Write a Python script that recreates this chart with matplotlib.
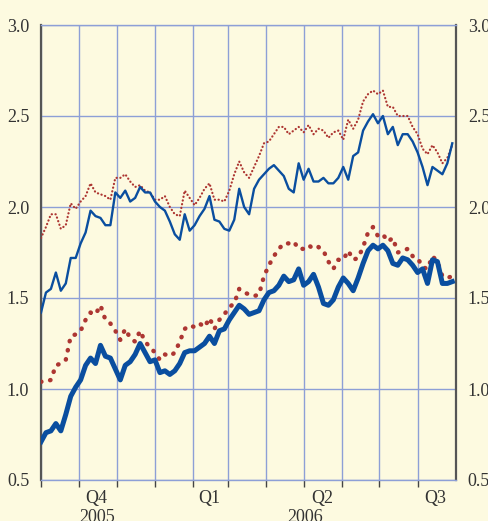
import numpy as np
import pandas as pd
import matplotlib
matplotlib.use('Agg')
import matplotlib.pyplot as plt
import matplotlib.transforms as mtransforms

# sampling dates (every 4 days from 1 Oct 2005)
dates = pd.date_range('2005-10-01', periods=84, freq='4D')

# upper thin blue line
upper_blue = [1.42, 1.53, 1.55, 1.64, 1.54, 1.58, 1.72, 1.72, 1.80, 1.86,
              1.98, 1.95, 1.94, 1.90, 1.90, 2.08, 2.05, 2.09, 2.03, 2.05,
              2.11, 2.08, 2.08, 2.03, 2.00, 1.98, 1.92, 1.85, 1.82, 1.96,
              1.87, 1.90, 1.95, 1.99, 2.06, 1.93, 1.92, 1.88, 1.87, 1.93,
              2.10, 2.00, 1.96, 2.10, 2.15, 2.18, 2.21, 2.23, 2.20, 2.17,
              2.10, 2.08, 2.24, 2.15, 2.21, 2.14, 2.14, 2.16, 2.13, 2.13,
              2.16, 2.22, 2.15, 2.28, 2.30, 2.42, 2.47, 2.51, 2.46, 2.50,
              2.40, 2.44, 2.34, 2.40, 2.40, 2.36, 2.30, 2.22, 2.12, 2.22,
              2.20, 2.18, 2.24, 2.35]

# upper thin red dotted line
upper_red = [1.83, 1.89, 1.96, 1.96, 1.88, 1.90, 2.02, 1.99, 2.03, 2.06,
             2.13, 2.08, 2.07, 2.06, 2.04, 2.16, 2.16, 2.18, 2.14, 2.11,
             2.12, 2.09, 2.08, 2.04, 2.04, 2.06, 2.00, 1.96, 1.95, 2.09,
             2.05, 2.01, 2.05, 2.10, 2.13, 2.04, 2.04, 2.03, 2.09, 2.18,
             2.25, 2.19, 2.16, 2.22, 2.28, 2.35, 2.36, 2.40, 2.44, 2.44,
             2.40, 2.42, 2.44, 2.41, 2.45, 2.40, 2.43, 2.42, 2.38, 2.41,
             2.42, 2.37, 2.48, 2.43, 2.48, 2.58, 2.62, 2.64, 2.62, 2.64,
             2.55, 2.55, 2.50, 2.50, 2.50, 2.44, 2.40, 2.32, 2.29, 2.34,
             2.30, 2.24, 2.27, 2.34]

# lower thick blue line
lower_blue = [0.71, 0.76, 0.77, 0.81, 0.77, 0.86, 0.96, 1.01, 1.05, 1.13,
              1.17, 1.14, 1.24, 1.18, 1.17, 1.11, 1.05, 1.13, 1.15, 1.19,
              1.25, 1.20, 1.15, 1.16, 1.09, 1.10, 1.08, 1.10, 1.14, 1.20,
              1.21, 1.21, 1.23, 1.25, 1.29, 1.25, 1.32, 1.33, 1.38, 1.42,
              1.46, 1.44, 1.41, 1.42, 1.43, 1.49, 1.53, 1.54, 1.57, 1.62,
              1.59, 1.60, 1.66, 1.57, 1.59, 1.63, 1.56, 1.47, 1.46, 1.49,
              1.56, 1.61, 1.58, 1.54, 1.61, 1.69, 1.76, 1.79, 1.77, 1.79,
              1.76, 1.69, 1.68, 1.72, 1.71, 1.68, 1.64, 1.66, 1.58, 1.71,
              1.70, 1.58, 1.58, 1.59]

# lower thick red dotted line
lower_red = [1.04, 1.04, 1.05, 1.13, 1.14, 1.16, 1.29, 1.30, 1.32, 1.38,
             1.42, 1.41, 1.46, 1.38, 1.36, 1.32, 1.27, 1.33, 1.28, 1.26,
             1.32, 1.26, 1.23, 1.20, 1.16, 1.19, 1.18, 1.20, 1.26, 1.33,
             1.35, 1.34, 1.36, 1.34, 1.39, 1.33, 1.38, 1.41, 1.45, 1.47,
             1.55, 1.53, 1.52, 1.51, 1.52, 1.62, 1.68, 1.73, 1.77, 1.80,
             1.80, 1.81, 1.77, 1.77, 1.79, 1.77, 1.78, 1.76, 1.70, 1.66,
             1.71, 1.71, 1.76, 1.71, 1.72, 1.78, 1.86, 1.89, 1.84, 1.85,
             1.81, 1.83, 1.75, 1.76, 1.77, 1.73, 1.72, 1.67, 1.66, 1.73,
             1.70, 1.62, 1.61, 1.62]

quarter_labels = ['Q4', 'Q1', 'Q2', 'Q3']
quarter_mids = pd.to_datetime(['2005-11-15', '2006-02-14', '2006-05-16', '2006-08-15'])
year_labels = ['2005', '2006']
year_mids = pd.to_datetime(['2005-11-15', '2006-05-02'])

bg = '#fdfae0'
blue = '#0a4e9f'
red = '#ad3632'
grid_col = '#8d9fd6'

plt.rcParams['font.family'] = ['Liberation Serif', 'DejaVu Serif']

fig = plt.figure(figsize=(4.89, 5.21), dpi=100, facecolor=bg)
ax = fig.add_axes([41 / 489, 1 - 480 / 521, 415 / 489, 455 / 521])
ax.set_facecolor(bg)

ax.plot(dates, upper_red, color=red, lw=1.6, linestyle=(0, (0.1, 1.6)),
        dash_capstyle='round', zorder=3)
ax.plot(dates, upper_blue, color=blue, lw=1.7, zorder=4)
ax.plot(dates, lower_red, color=red, lw=3.2, linestyle=(0, (0.1, 2.0)),
        dash_capstyle='round', zorder=3)
ax.plot(dates, lower_blue, color=blue, lw=3.6, zorder=4)

ax.set_xlim(pd.Timestamp('2005-10-01'), pd.Timestamp('2006-09-01'))
ax.set_ylim(0.5, 3.0)

months = pd.date_range('2005-10-01', '2006-08-01', freq='MS')
ax.set_xticks(months)
ax.set_xticklabels([])
ax.set_yticks(np.arange(0.5, 3.01, 0.5))
ax.set_yticklabels([f'{v:.1f}' for v in np.arange(0.5, 3.01, 0.5)])

ax.grid(True, color=grid_col, lw=1.0, zorder=1)
ax.set_axisbelow(True)

ax.tick_params(axis='y', left=False, right=False, labelleft=True, labelright=True,
               labelsize=13, pad=5, colors='#333333')
ax.tick_params(axis='x', direction='out', length=5, width=1.0, color='#444444')

for side in ['left', 'right']:
    ax.spines[side].set_color('#555555')
    ax.spines[side].set_linewidth(1.6)
ax.spines['top'].set_color(grid_col)
ax.spines['top'].set_linewidth(1.0)
ax.spines['bottom'].set_color(grid_col)
ax.spines['bottom'].set_linewidth(1.0)

trans = mtransforms.blended_transform_factory(ax.transData, ax.transAxes)
for lab, d in zip(quarter_labels, quarter_mids):
    ax.text(d, -0.04, lab, transform=trans, ha='center', va='center',
            fontsize=13, color='#333333', clip_on=False)
for lab, d in zip(year_labels, year_mids):
    ax.text(d, -0.082, lab, transform=trans, ha='center', va='center',
            fontsize=13, color='#333333', clip_on=False)

fig.savefig('out.png', dpi=100, facecolor=bg)
